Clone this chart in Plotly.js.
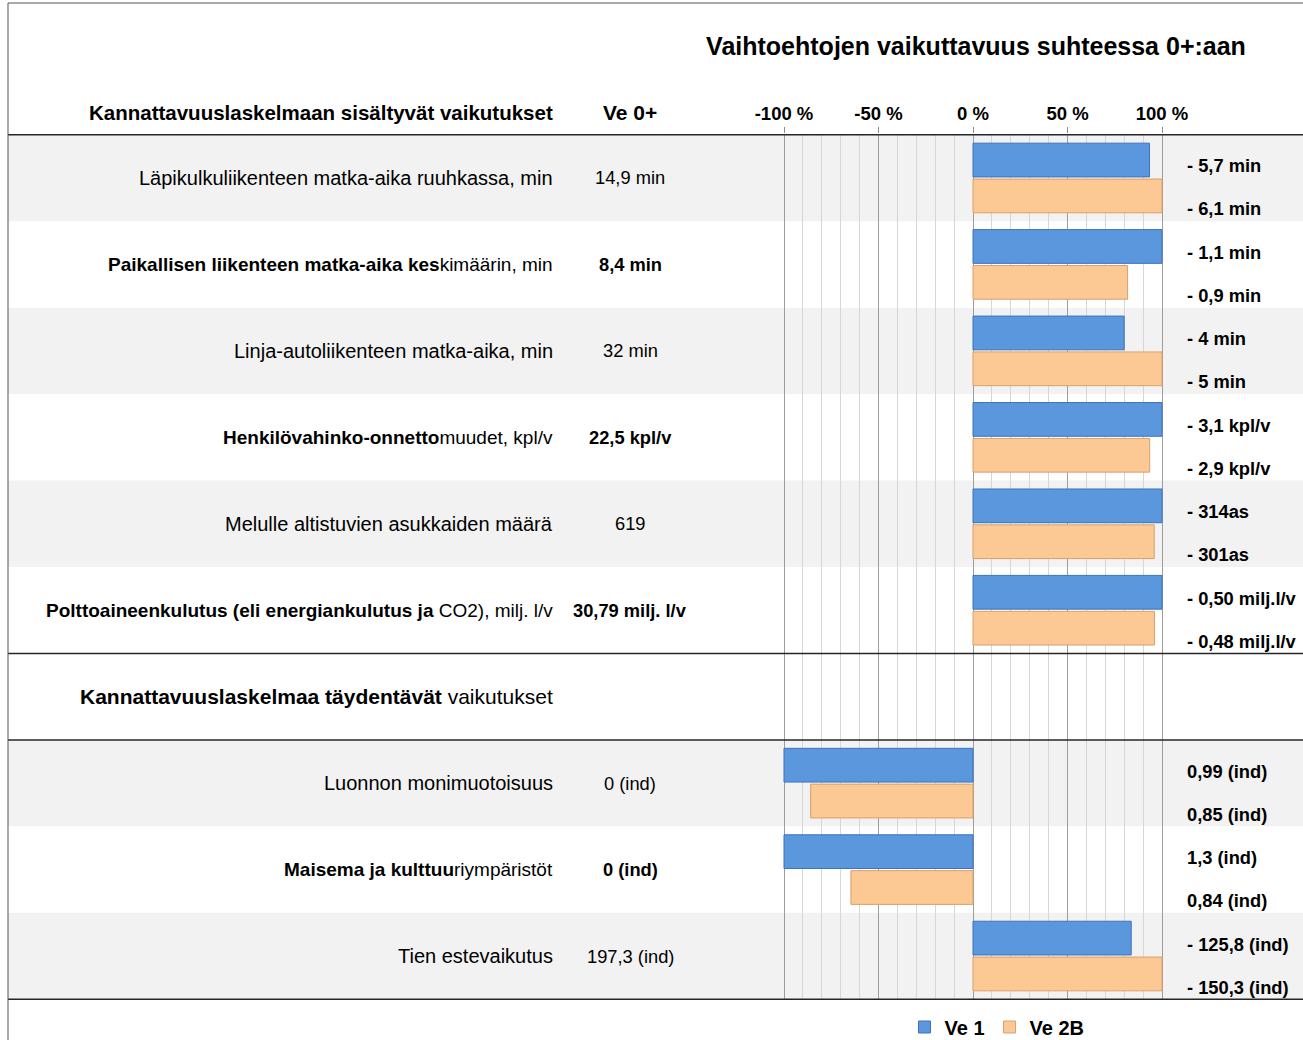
<!DOCTYPE html>
<html>
<head>
<meta charset="utf-8">
<script src="https://cdn.plot.ly/plotly-3.0.1.min.js"></script>
<style>html,body{margin:0;padding:0;background:#fff;}#chart{width:1303px;height:1040px;}</style>
</head>
<body>
<div id="chart"></div>
<script>
// ---- data ----
const categories = [
  "Läpikulkuliikenteen matka-aika ruuhkassa, min",
  "<b>Paikallisen liikenteen matka-aika kes</b>kimäärin, min",
  "Linja-autoliikenteen matka-aika, min",
  "<b>Henkilövahinko-onnetto</b>muudet, kpl/v",
  "Melulle altistuvien asukkaiden määrä",
  "<b>Polttoaineenkulutus (eli energiankulutus ja</b> CO2), milj. l/v",
  "<b>Kannattavuuslaskelmaa täydentävät</b> vaikutukset",
  "Luonnon monimuotoisuus",
  "<b>Maisema ja kulttuu</b>riympäristöt",
  "Tien estevaikutus"
];
const ve0Values = ["14,9 min", "<b>8,4 min</b>", "32 min", "<b>22,5 kpl/v</b>", "619", "<b>30,79 milj. l/v</b>", "", "0 (ind)", "<b>0 (ind)</b>", "197,3 (ind)"];
const ve1Pct  = [93.4, 100, 80, 100, 100, 100, null, -100, -100, 83.7];
const ve2bPct = [100, 81.8, 100, 93.5, 95.9, 96, null, -85.9, -64.6, 100];
const ve1Labels  = ["- 5,7 min", "- 1,1 min", "- 4 min", "- 3,1 kpl/v", "- 314as", "- 0,50 milj.l/v", "", "0,99 (ind)", "1,3 (ind)", "- 125,8 (ind)"];
const ve2bLabels = ["- 6,1 min", "- 0,9 min", "- 5 min", "- 2,9 kpl/v", "- 301as", "- 0,48 milj.l/v", "", "0,85 (ind)", "0,84 (ind)", "- 150,3 (ind)"];
const tickVals = [-100, -50, 0, 50, 100];
const tickLabels = ["-100 %", "-50 %", "0 %", "50 %", "100 %"];
const seriesNames = ["Ve 1", "Ve 2B"];
const headerLeft = "Kannattavuuslaskelmaan sisältyvät vaikutukset";
const headerVe0 = "Ve 0+";
const chartTitle = "Vaihtoehtojen vaikuttavuus suhteessa 0+:aan";
const sectionRow = 6;
const grayRows = [0, 2, 4, 7, 9];

// ---- style ----
const FONT = "Liberation Sans, Arial, sans-serif";
const W = 1303, H = 1040;
const mL = 8, mR = 0, mT = 134, mB = 40;
const plotW = W - mL - mR, plotH = H - mT - mB;
const pxNeg100 = 784, pxPos100 = 1162;
const pxPerPct = (pxPos100 - pxNeg100) / 200;
const xmin = -100 - (pxNeg100 - mL) / pxPerPct;
const xmax = 100 + (W - mR - pxPos100) / pxPerPct;
const px2paper = p => (p - mL) / plotW;
// font size of row labels: plain rows, mixed-bold rows, section heading
const labelSize = i => (i === sectionRow ? 21 : (categories[i].indexOf('<b>') >= 0 ? 19 : 20));

const traces = [
  {type: 'bar', orientation: 'h', name: seriesNames[0], y: categories, x: ve1Pct,
   marker: {color: '#5B97DD', line: {color: '#3D73BE', width: 1}}, hoverinfo: 'skip'},
  {type: 'bar', orientation: 'h', name: seriesNames[1], y: categories, x: ve2bPct,
   marker: {color: '#FCC893', line: {color: '#D9A06A', width: 1}}, hoverinfo: 'skip'}
];

const shapes = [];
grayRows.forEach(i => shapes.push({type: 'rect', xref: 'paper', yref: 'y', x0: 0, x1: 1, y0: i - 0.5, y1: i + 0.5,
  fillcolor: '#F2F2F2', line: {width: 0}, layer: 'below'}));
[-0.5, sectionRow - 0.5, sectionRow + 0.5, categories.length - 0.5].forEach(b => shapes.push({type: 'line', xref: 'paper', yref: 'y',
  x0: 0, x1: 1, y0: b, y1: b, line: {color: '#262626', width: 1.5}, layer: 'above'}));
shapes.push({type: 'line', xref: 'paper', yref: 'paper', x0: 0, x1: 0, y0: -mB / plotH, y1: 1 + (mT - 3) / plotH, line: {color: '#555', width: 1}});
shapes.push({type: 'line', xref: 'paper', yref: 'paper', x0: 0, x1: 1, y0: 1 + (mT - 3) / plotH, y1: 1 + (mT - 3) / plotH, line: {color: '#555', width: 1}});

const annotations = [];
const labelX = px2paper(555), ve0X = px2paper(630), valX = px2paper(1185);
categories.forEach((c, i) => {
  annotations.push({xref: 'paper', yref: 'y', x: labelX, y: c, text: c, showarrow: false, xanchor: 'right', yanchor: 'middle',
    font: {family: FONT, size: labelSize(i), color: '#000'}});
  if (ve0Values[i]) annotations.push({xref: 'paper', yref: 'y', x: ve0X, y: c, text: ve0Values[i], showarrow: false, xanchor: 'center', yanchor: 'middle',
    font: {family: FONT, size: 18.3, color: '#000'}});
  if (ve1Labels[i]) annotations.push({xref: 'paper', yref: 'y', x: valX, y: c, yshift: 12, text: '<b>' + ve1Labels[i] + '</b>', showarrow: false, xanchor: 'left', yanchor: 'middle',
    font: {family: FONT, size: 18.3, color: '#000'}});
  if (ve2bLabels[i]) annotations.push({xref: 'paper', yref: 'y', x: valX, y: c, yshift: -31, text: '<b>' + ve2bLabels[i] + '</b>', showarrow: false, xanchor: 'left', yanchor: 'middle',
    font: {family: FONT, size: 18.3, color: '#000'}});
});
annotations.push({xref: 'paper', yref: 'paper', x: labelX, y: 1 + (mT - 112) / plotH, text: '<b>' + headerLeft + '</b>', showarrow: false,
  xanchor: 'right', yanchor: 'middle', font: {family: FONT, size: 20.5, color: '#000'}});
annotations.push({xref: 'paper', yref: 'paper', x: ve0X, y: 1 + (mT - 112) / plotH, text: '<b>' + headerVe0 + '</b>', showarrow: false,
  xanchor: 'center', yanchor: 'middle', font: {family: FONT, size: 21, color: '#000'}});

const minorVals = [-90,-80,-70,-60,-40,-30,-20,-10,10,20,30,40,60,70,80,90];

const layout = {
  width: W, height: H,
  margin: {l: mL, r: mR, t: mT, b: mB, pad: 0, autoexpand: false},
  paper_bgcolor: '#fff', plot_bgcolor: 'rgba(0,0,0,0)',
  title: {text: '<b>' + chartTitle + '</b>', x: px2paper(976), xref: 'paper', xanchor: 'center',
          y: 1 - 46 / H, yref: 'container', yanchor: 'middle', font: {family: FONT, size: 25, color: '#000'}},
  barmode: 'group', bargap: 0.17, bargroupgap: 0.06,
  showlegend: true,
  legend: {orientation: 'h', xref: 'paper', x: px2paper(997), xanchor: 'center', yref: 'container', y: 13 / H, yanchor: 'middle',
           font: {family: FONT, size: 20, color: '#000', weight: 'bold'}, traceorder: 'normal', itemwidth: 30, tracegroupgap: 0},
  xaxis: {range: [xmin, xmax], side: 'top', tickmode: 'array', tickvals: tickVals, ticktext: tickLabels,
          tickfont: {family: FONT, size: 18.5, color: '#000', weight: 'bold'},
          ticks: 'outside', ticklen: 6, tickcolor: '#8c8c8c',
          showgrid: true, gridcolor: '#9d9d9d', gridwidth: 1, zeroline: false, showline: false, fixedrange: true, automargin: false,
          minor: {tickmode: 'array', tickvals: minorVals, showgrid: true, gridcolor: '#d6d6d6', gridwidth: 1, ticks: ''}},
  yaxis: {type: 'category', categoryorder: 'array', categoryarray: categories, autorange: 'reversed', automargin: false,
          showticklabels: false, showgrid: false, zeroline: false, showline: false, ticks: '', fixedrange: true},
  shapes: shapes,
  annotations: annotations,
  font: {family: FONT}
};

Plotly.newPlot('chart', traces, layout, {displayModeBar: false, staticPlot: true});
</script>
</body>
</html>
